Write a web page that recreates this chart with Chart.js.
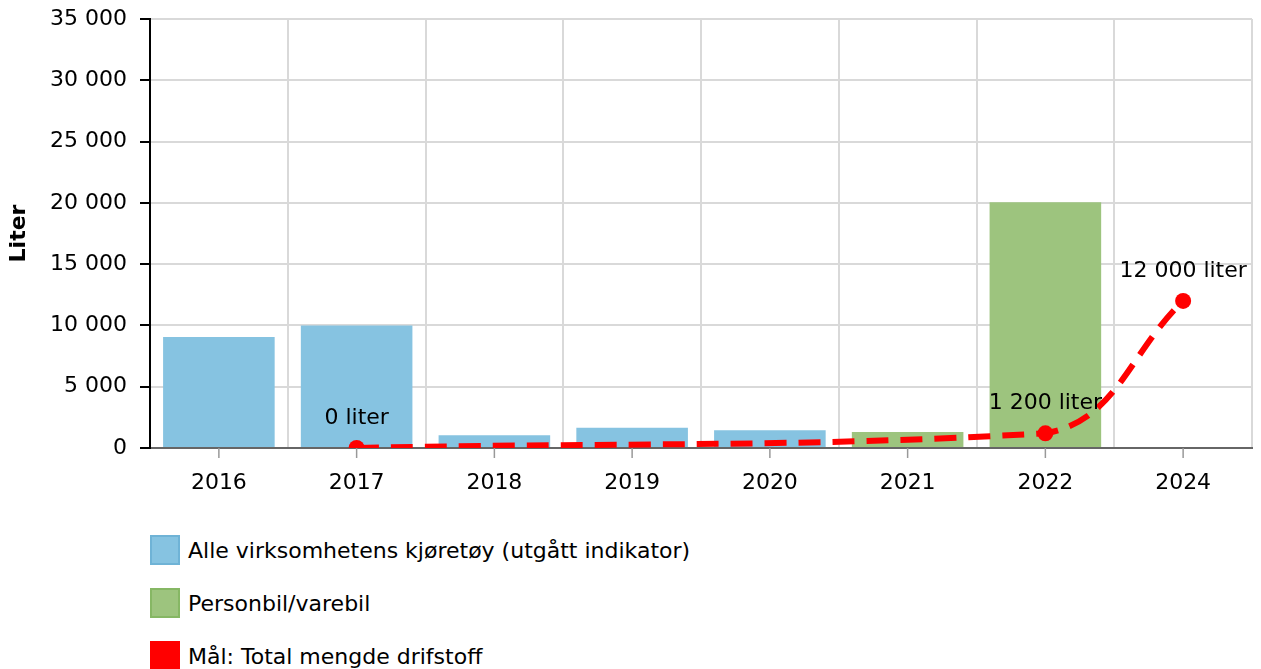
<!DOCTYPE html>
<html>
<head>
<meta charset="utf-8">
<script src="https://cdn.jsdelivr.net/npm/chart.js@4.4.1/dist/chart.umd.min.js"></script>
<style>
  body { margin: 0; background: #fff; font-family: "DejaVu Sans", Verdana, sans-serif; }
  #wrap { position: relative; width: 1261px; height: 500px; }
  #legend { margin: 0; padding: 0 0 0 150px; list-style: none; }
  #legend li { display: flex; align-items: center; height: 30px; margin-top: 23px; font-size: 22px; color: #000; }
  #legend li:first-child { margin-top: 35px; }
  #legend span.box { width: 30px; height: 30px; margin-right: 8px; box-sizing: border-box; }
</style>
</head>
<body>
<div id="wrap"><canvas id="chart"></canvas></div>
<ul id="legend"></ul>
<script>
// years on the x axis
const years = ["2016", "2017", "2018", "2019", "2020", "2021", "2022", "2024"];
// all vehicles (retired indicator)
const allVehicles = [9050, 10000, 1050, 1650, 1450, null, null, null];
// passenger cars / vans
const personbil = [null, null, null, null, null, 1300, 20050, null];
// target: total fuel
const target = [null, 0, null, null, null, null, 1200, 12000];
const yTicks = [0, 5000, 10000, 15000, 20000, 25000, 30000, 35000];

const seriesNames = [
  "Alle virksomhetens kjøretøy (utgått indikator)",
  "Personbil/varebil",
  "Mål: Total mengde drifstoff"
];
const blue = "#86c3e1";
const green = "#9dc47e";
const red = "#ff0000";

const fmt = v => String(v).replace(/\B(?=(\d{3})+(?!\d))/g, " ");

// labels over the target points
const pointLabels = {
  id: "pointLabels",
  afterDatasetsDraw(chart) {
    const meta = chart.getDatasetMeta(0);
    const ctx = chart.ctx;
    ctx.save();
    ctx.font = "22px 'DejaVu Sans'";
    ctx.fillStyle = "#000";
    ctx.textAlign = "center";
    ctx.textBaseline = "middle";
    meta.data.forEach((pt, i) => {
      if (target[i] === null) return;
      ctx.fillText(fmt(target[i]) + " liter", pt.x, pt.y - 30);
    });
    ctx.restore();
  }
};

// tick marks under the category centres (grid lines sit between categories)
const xTickMarks = {
  id: "xTickMarks",
  afterDraw(chart) {
    const x = chart.scales.x;
    const ctx = chart.ctx;
    ctx.save();
    ctx.strokeStyle = "#999";
    ctx.lineWidth = 1.5;
    years.forEach((_, i) => {
      const px = x.getPixelForTick(i);
      ctx.beginPath();
      ctx.moveTo(px, x.top);
      ctx.lineTo(px, x.top + 10);
      ctx.stroke();
    });
    ctx.restore();
  }
};

const chart = new Chart(document.getElementById("chart"), {
  type: "bar",
  data: {
    labels: years,
    datasets: [
      {
        type: "line",
        label: seriesNames[2],
        data: target,
        order: 0,
        borderColor: red,
        backgroundColor: red,
        borderWidth: 6,
        borderDash: [22, 12],
        tension: 0.4,
        spanGaps: true,
        pointRadius: 8,
        pointHoverRadius: 8,
        pointBackgroundColor: red,
        pointBorderWidth: 0
      },
      {
        label: seriesNames[0],
        data: allVehicles,
        order: 1,
        backgroundColor: blue,
        barPercentage: 0.81,
        categoryPercentage: 1
      },
      {
        label: seriesNames[1],
        data: personbil,
        order: 2,
        backgroundColor: green,
        barPercentage: 0.81,
        categoryPercentage: 1
      }
    ]
  },
  options: {
    responsive: true,
    maintainAspectRatio: false,
    animation: false,
    layout: { padding: { top: 0, right: 9, bottom: 0, left: 0 } },
    plugins: {
      legend: { display: false },
      tooltip: { enabled: false }
    },
    scales: {
      x: {
        stacked: true,
        afterFit: s => { s.height = 52; },
        grid: { offset: true, color: "#d9d9d9", lineWidth: 2, drawTicks: false },
        border: { color: "#666", width: 2 },
        ticks: { color: "#000", font: { size: 22, family: "DejaVu Sans" }, padding: 22 }
      },
      y: {
        min: 0,
        max: 35000,
        afterFit: s => { s.width = 150; s.paddingTop = 19; },
        afterBuildTicks: s => { s.ticks = yTicks.map(v => ({ value: v })); },
        title: {
          display: true,
          text: "Liter",
          color: "#000",
          font: { size: 22, weight: "bold", family: "DejaVu Sans" },
          padding: 6
        },
        grid: { color: "#d9d9d9", lineWidth: 2, tickColor: "#000", tickLength: 10 },
        border: { color: "#000", width: 2 },
        ticks: {
          color: "#000",
          font: { size: 22, family: "DejaVu Sans" },
          padding: 13,
          callback: v => fmt(v)
        }
      }
    }
  },
  plugins: [pointLabels, xTickMarks]
});

// legend below the chart, one entry per row
const legendItems = [
  { text: seriesNames[0], color: blue, border: "#6fb3d6" },
  { text: seriesNames[1], color: green, border: "#86b764" },
  { text: seriesNames[2], color: red, border: red }
];
const ul = document.getElementById("legend");
legendItems.forEach(it => {
  const li = document.createElement("li");
  const box = document.createElement("span");
  box.className = "box";
  box.style.background = it.color;
  box.style.border = "2px solid " + it.border;
  li.appendChild(box);
  li.appendChild(document.createTextNode(it.text));
  ul.appendChild(li);
});
</script>
</body>
</html>
